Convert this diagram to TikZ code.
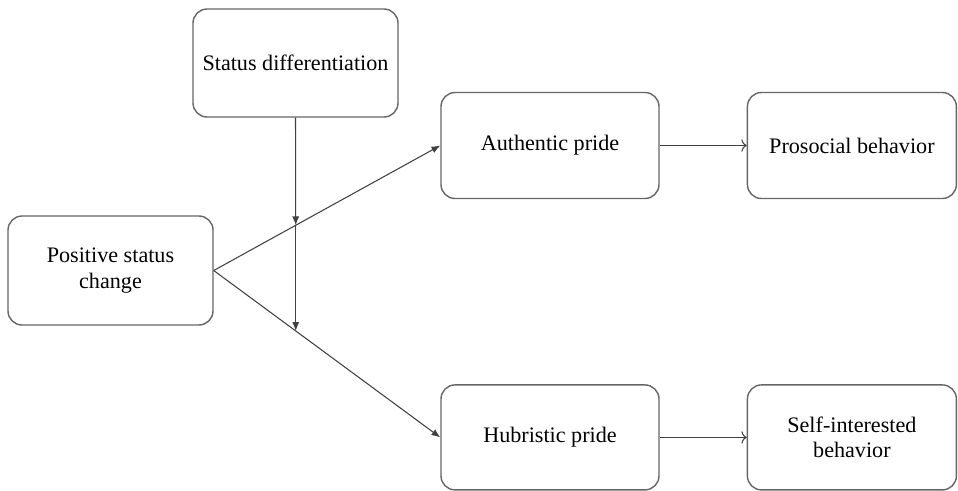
\documentclass[tikz,border=0pt]{standalone}
\usepackage{fontspec}
\setmainfont{Liberation Serif}
\usetikzlibrary{arrows.meta, positioning}
\tikzset{
    block/.style={rectangle, rounded corners=8pt, draw=black!60, line width=0.8pt, fill=white, align=center, minimum height=2.14cm, minimum width=4.3cm, font=\fontsize{12.6}{14.6}\selectfont, inner sep=4pt},
    arrow/.style={draw=black!75, line width=0.6pt, -{Latex[length=5pt, width=4pt]}},
    openarrow/.style={draw=black!75, line width=0.6pt, -{To[length=3pt, width=7pt]}}
}

\begin{document}
\begin{tikzpicture}[node distance=1.74cm]
    \useasboundingbox (0,0) rectangle (19.16,-9.8);
    \node (psc) [block, minimum width=4.1cm, minimum height=2.18cm] at (2.21,-5.41) {Positive status\\change};
    \node (sd) [block, minimum width=4.1cm, minimum height=2.16cm] at (5.91,-1.26) {Status differentiation};
    \node (ap) [block, minimum width=4.36cm, minimum height=2.12cm] at (11.0,-2.91) {Authentic pride};
    \node (pb) [block, minimum width=4.18cm, minimum height=2.12cm, right=of ap] {Prosocial behavior};
    \node (hp) [block, minimum width=4.36cm, minimum height=2.1cm, below=3.7cm of ap] {Hubristic pride};
    \node (sib) [block, minimum width=4.18cm, minimum height=2.1cm, right=of hp] {Self-interested\\behavior};

    \draw [arrow] (psc.east) -- coordinate[pos=0.362] (m1) (ap.west);
    \draw [arrow] (psc.east) -- coordinate[pos=0.362] (m2) (hp.west);
    \draw [arrow] (sd.south) -- (m1);
    \draw [arrow] (m1) -- (m2);
    \draw [openarrow] (ap) -- (pb);
    \draw [openarrow] (hp) -- (sib);
\end{tikzpicture}
\end{document}
